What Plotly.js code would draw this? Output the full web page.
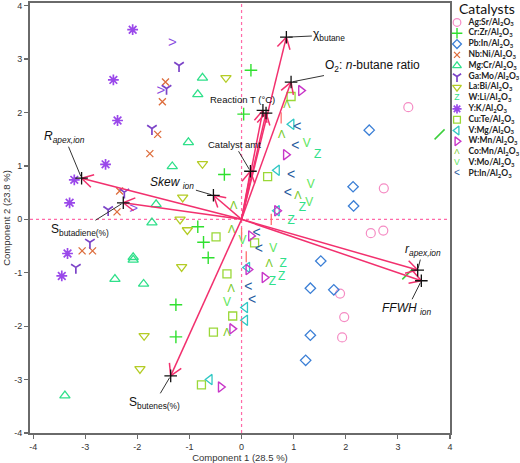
<!DOCTYPE html>
<html><head><meta charset="utf-8">
<script src="https://cdn.plot.ly/plotly-3.0.1.min.js"></script>
<style>html,body{margin:0;padding:0;background:#fff}#chart{width:520px;height:463px}</style>
</head><body><div id="chart"></div>
<script>
// ---------- data ----------
const catalystNames = ["Ag:Sr","Cr:Zr","Pb:In","Nb:Ni","Mg:Cr","Ga:Mo","La:Bi","W:Li","Y:K","Cu:Te","V:Mg","W:Mn","Co:Mn","V:Mo","Pt:In"];
const support = "Al<sub>2</sub>O<sub>3</sub>";

const AgSr_x = [3.20, 2.73, 2.48, 2.72, 1.89, 1.97, 1.93];
const AgSr_y = [2.10, 0.58, -0.26, -0.21, -1.39, -1.83, -2.21];
const CrZr_x = [0.18, 0.04, -0.33, -0.84, -0.73, -0.64, -1.26, -1.26];
const CrZr_y = [2.79, 1.97, 0.84, -0.14, -0.43, -0.72, -1.60, -2.20];
const PbIn_x = [2.45, 2.14, 2.15, 1.52, 1.32, 1.77, 1.32, 1.23];
const PbIn_y = [1.67, 0.61, 0.25, -0.78, -1.29, -1.32, -2.17, -2.64];
const NbNi_x = [-1.46, -1.52, -1.61, -1.76, -2.34, -2.39, -3.06, -2.86];
const NbNi_y = [2.57, 2.20, 1.59, 1.23, 0.53, 0.14, -0.59, -0.59];
const MgCr_x = [-0.75, -0.84, -1.02, -1.33, -1.64, -1.72, -2.08, -2.08, -2.43, -1.88, -3.39];
const MgCr_y = [2.65, 2.34, 1.44, 0.99, 0.28, -0.06, -0.71, -0.76, -1.12, -1.21, -3.30];
const GaMo_x = [-1.20, -1.44, -1.72, -2.25, -2.56, -2.91, -3.18];
const GaMo_y = [2.88, 2.45, 1.70, 0.51, 0.18, -0.43, -0.90];
const LaBi_x = [-0.30, -0.75, -1.13, -1.18, -1.04, -1.15, -1.87, -1.95];
const LaBi_y = [2.65, 1.04, 0.41, 0.00, -0.20, -0.89, -2.18, -2.80];
const WLi_x = [1.46, 1.17, 0.95, 0.80, 0.59, 0.77];
const WLi_y = [1.20, 0.21, -0.04, -0.83, -1.17, -1.08];
const YK_x = [-2.09, -2.46, -2.38, -2.61, -3.21, -3.30, -3.34, -3.45];
const YK_y = [3.55, 2.61, 1.85, 1.03, 0.74, 0.31, -0.64, -1.06];
const CuTe_x = [0.95, 0.50, -0.49, 0.25, -0.28, -0.17, -0.54, -0.77];
const CuTe_y = [2.30, 0.80, -0.33, -0.44, -1.02, -1.81, -2.11, -3.10];
const VMg_x = [0.96, 0.68, 0.68, 0.11, 0.07, 0.07, -0.61];
const VMg_y = [1.78, 0.92, 0.16, -0.90, -1.65, -1.89, -3.00];
const WMn_x = [1.14, 0.85, 0.68, 0.18, 0.13, 0.44, -0.18, -0.40];
const WMn_y = [2.41, 1.21, 0.16, -0.31, -0.94, -1.09, -2.05, -3.14];
const CoMn_x = [0.87, 0.77, 1.08, -0.15, -0.19, 0.53, -0.20, -0.28];
const CoMn_y = [2.13, 1.57, 0.44, 0.25, -0.20, -0.85, -1.30, -2.13];
const VMo_x = [1.25, 1.33, 1.30, 0.02, 0.61, -0.28];
const VMo_y = [1.41, 0.64, 0.31, -0.40, -0.55, -1.57];
const PtIn_x = [1.07, 1.03, 0.95, 0.89, 0.29, 0.33, 0.13, 0.20];
const PtIn_y = [1.72, 1.36, 0.83, 0.48, -0.26, -0.57, -1.27, -1.52];

// unlabelled extra groups
const bar_x = [0.76, 0.57, 0.00, 0.09, 0.00];
const bar_y = [1.90, 0.00, -0.27, -0.70, -2.00];
const slash_x = [3.80, 3.18];
const slash_y = [1.59, -1.03];
const chev_x = [-1.33, -1.55, -2.07];
const chev_y = [3.29, 2.40, 0.18];

// loadings (biplot vectors)
const loadLabels = ["χ<sub>butane</sub>", "O<sub>2</sub>: <i>n</i>-butane ratio", "Reaction T (°C)", "", "Catalyst amt",
  "<i>Skew</i> <i><sub>ion</sub></i>", "<i>R<sub>apex,ion</sub></i>", "S<sub>butadiene(%)</sub>", "S<sub>butenes(%)</sub>",
  "<i>r<sub>apex,ion</sub></i>", "<i>FFWH <sub>ion</sub></i>"];
const loadX = [0.86, 0.95, 0.41, 0.47, 0.17, -0.54, -3.07, -2.27, -1.36, 3.38, 3.45];
const loadY = [3.41, 2.57, 2.04, 1.99, 0.90, 0.45, 0.77, 0.31, -2.93, -0.95, -1.15];

const tickVals = [-4, -3, -2, -1, 0, 1, 2, 3, 4];
const tickText = ["-4", "-3", "-2", "-1", "0", "1", "2", "3", "4"];

// ---------- styles ----------
const groupX = [AgSr_x, CrZr_x, PbIn_x, NbNi_x, MgCr_x, GaMo_x, LaBi_x, WLi_x, YK_x, CuTe_x, VMg_x, WMn_x, CoMn_x, VMo_x, PtIn_x];
const groupY = [AgSr_y, CrZr_y, PbIn_y, NbNi_y, MgCr_y, GaMo_y, LaBi_y, WLi_y, YK_y, CuTe_y, VMg_y, WMn_y, CoMn_y, VMo_y, PtIn_y];
const symbols = ['circle-open','cross-thin-open','diamond-open','x-thin-open','triangle-up-open','y-down-open','triangle-down-open','Z','asterisk-open','square-open','triangle-left-open','triangle-right-open','Λ','V','<'];
const colors = ['#f58cc4','#2fe02f','#3b7fd6','#dd6d3c','#2fe08a','#7c44c8','#b4cc25','#2fe08a','#9a48ea','#9ad838','#2fc8c4','#c836c8','#78c825','#5de65d','#1f5a9e'];
const sizes = [9, 9, 8, 7, 9, 8, 9, 12, 9, 8, 9, 9, 11, 12, 14];
const lineW = [1.2, 1.4, 1.3, 1.3, 1.3, 1.7, 1.3, 0, 1.7, 1.3, 1.3, 1.4, 0, 0, 0];
const textSym = new Set(['Z','Λ','V','<']);

const margin = {l: 30, r: 0, t: 3, b: 30};
const W = 520, H = 463;
const plotW = 420; // main plot pixel width
const xRange = [-4.06, 4.0], yRange = [-4.0, 4.05];
const plotH = H - margin.t - margin.b;
const sx = plotW / (xRange[1] - xRange[0]);
const sy = plotH / (yRange[1] - yRange[0]);
const fontMain = 'Liberation Sans, Arial, sans-serif';

function styledTrace(x, y, i, xa, ya, scale) {
  const s = symbols[i];
  if (textSym.has(s)) {
    const tsz = sizes[i] * (scale ? 0.72 : 1);
    return {type: 'scatter', mode: 'text', x: x, y: y, text: x.map(() => s), textposition: 'middle center',
      textfont: {family: fontMain, size: tsz, color: colors[i]}, xaxis: xa, yaxis: ya, hoverinfo: 'skip', showlegend: false};
  }
  const sz = sizes[i] * (scale || 1);
  return {type: 'scatter', mode: 'markers', x: x, y: y, xaxis: xa, yaxis: ya, hoverinfo: 'skip', showlegend: false,
    marker: {symbol: s, size: sz, color: colors[i], line: {color: colors[i], width: lineW[i]}}};
}

const traces = [];
groupX.forEach((gx, i) => traces.push(styledTrace(gx, groupY[i], i, 'x', 'y')));
traces.push({type: 'scatter', mode: 'markers', x: bar_x, y: bar_y, hoverinfo: 'skip', showlegend: false,
  marker: {symbol: 'line-ns-open', size: 8, color: '#ff6f6f', line: {color: '#ff6f6f', width: 1.3}}});
traces.push({type: 'scatter', mode: 'markers', x: slash_x, y: slash_y, hoverinfo: 'skip', showlegend: false,
  marker: {symbol: 'line-ne-open', size: 10, color: '#3ccf3c', line: {color: '#3ccf3c', width: 1.5}}});
traces.push({type: 'scatter', mode: 'text', x: chev_x, y: chev_y, text: chev_x.map(() => '>'), hoverinfo: 'skip', showlegend: false,
  textfont: {family: fontMain, size: 15, color: '#8a4de0'}});

// arrows
const ax = [], ay = [];
const headLen = 13, headAng = 30 * Math.PI / 180;
loadX.forEach((tx, k) => {
  const ty = loadY[k];
  ax.push(0, tx, null); ay.push(0, ty, null);
  const th = Math.atan2(ty * sy, tx * sx);
  [-1, 1].forEach(sg => {
    const a = th + sg * headAng;
    ax.push(tx, tx - headLen * Math.cos(a) / sx, null);
    ay.push(ty, ty - headLen * Math.sin(a) / sy, null);
  });
});
traces.push({type: 'scatter', mode: 'lines', x: ax, y: ay, hoverinfo: 'skip', showlegend: false,
  line: {color: '#f2306e', width: 1.5}});
traces.push({type: 'scatter', mode: 'markers', x: loadX, y: loadY, hoverinfo: 'skip', showlegend: false,
  marker: {symbol: 'cross-thin-open', size: 9, color: '#111', line: {color: '#111', width: 1.3}}});

// manual legend on a hidden axis pair
const legIdx = catalystNames.map((_, i) => i);
catalystNames.forEach((n, i) => traces.push(styledTrace([5.5], [i], i, 'x2', 'y2', 0.85)));
traces.push({type: 'scatter', mode: 'text', x: legIdx.map(() => 17), y: legIdx,
  text: catalystNames.map(n => n + '/' + support), textposition: 'middle right', xaxis: 'x2', yaxis: 'y2',
  hoverinfo: 'skip', showlegend: false, textfont: {family: 'Lato, sans-serif', size: 8.5, weight: 700, color: '#222'}});

// label offsets (px) for loading labels
const labelOff = [[43, -2, 1], [81, -16, 1], [-20, -11, 0], null, [-16, -27, 1], [-41, -12, 1], [-17, -41, 1], [-43, 27, 1], [-16, 27, 1], [5, -20, 1], [-14, 28, 1]];
const annotations = [];
loadLabels.forEach((t, k) => {
  const o = labelOff[k];
  if (!o || !t) return;
  annotations.push({x: loadX[k], y: loadY[k], xref: 'x', yref: 'y', text: t, showarrow: true,
    ax: o[0], ay: o[1], axref: 'pixel', ayref: 'pixel', arrowhead: 0, arrowwidth: 1, arrowcolor: o[2] ? '#333' : 'rgba(0,0,0,0)', standoff: 2,
    font: {family: fontMain, size: (k === 2 || k === 4) ? 9.5 : 12, color: '#111'}});
});
annotations.push({xref: 'paper', yref: 'paper', x: (487 - margin.l) / (W - margin.l - margin.r), y: (H - margin.b - 8) / plotH,
  text: 'Catalysts', showarrow: false, xanchor: 'center', yanchor: 'middle', font: {family: 'Lato, sans-serif', size: 14, color: '#111'}});

const axisCommon = {showgrid: false, zeroline: false, showline: true, linecolor: '#6a6a6a', linewidth: 2, mirror: true,
  ticks: 'outside', ticklen: 4, tickwidth: 1.2, tickcolor: '#6a6a6a', tickvals: tickVals, ticktext: tickText,
  tickfont: {family: fontMain, size: 9, color: '#333'}};
const totalW = W - margin.l - margin.r;
const layout = {
  width: W, height: H, margin: margin, paper_bgcolor: '#fff', plot_bgcolor: '#fff', showlegend: false,
  xaxis: Object.assign({}, axisCommon, {domain: [0, plotW / totalW], range: xRange,
    title: {text: 'Component 1 (28.5 %)', font: {family: fontMain, size: 9.5, color: '#333'}, standoff: 3}}),
  yaxis: Object.assign({}, axisCommon, {range: yRange,
    title: {text: 'Component 2 (23.8 %)', font: {family: fontMain, size: 9.5, color: '#333'}, standoff: 2}}),
  xaxis2: {domain: [(plotW + 1.5) / totalW, 1], range: [0, totalW - plotW - 1.5], visible: false, anchor: 'y2', fixedrange: true},
  yaxis2: {domain: [0, 1], range: [38.0, -1.8], visible: false, anchor: 'x2', fixedrange: true},
  shapes: [
    {type: 'line', xref: 'paper', x0: 0, x1: plotW / totalW, yref: 'y', y0: 0, y1: 0, layer: 'below', line: {color: '#ff6aa8', width: 1.2, dash: 'dot'}},
    {type: 'line', xref: 'x', x0: 0, x1: 0, yref: 'paper', y0: 0, y1: 1, layer: 'below', line: {color: '#ff6aa8', width: 1.2, dash: 'dot'}}
  ],
  annotations: annotations
};
Plotly.newPlot('chart', traces, layout, {displayModeBar: false, staticPlot: true});
</script></body></html>
